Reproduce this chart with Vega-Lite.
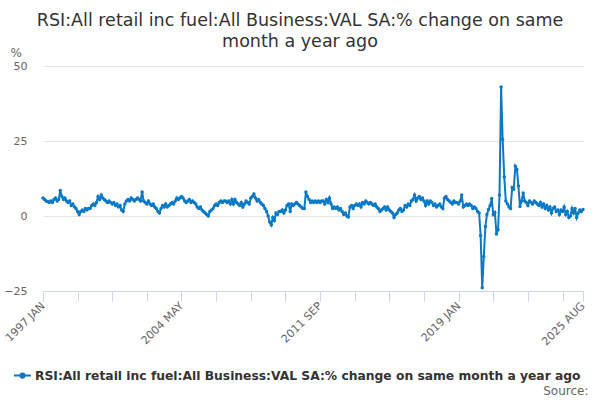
{
  "$schema": "https://vega.github.io/schema/vega-lite/v6.json",
  "description": "RSI all retail inc fuel, value SA, % change on same month a year ago.",
  "width": 540,
  "height": 225,
  "autosize": {"type": "none"},
  "padding": {"left": 43, "top": 66, "right": 17, "bottom": 109},
  "background": "white",
  "title": {
    "text": ["RSI:All retail inc fuel:All Business:VAL SA:% change on same", "month a year ago"],
    "anchor": "middle",
    "frame": "group",
    "dx": -13,
    "dy": 20,
    "offset": 16,
    "font": "DejaVu Sans",
    "fontSize": 17.5,
    "fontWeight": "normal",
    "color": "#333333",
    "lineHeight": 21
  },
  "data": {
    "values": [
      {"d": "1997-01", "v": 6}, {"d": "1997-02", "v": 5.5}, {"d": "1997-03", "v": 5}, {"d": "1997-04", "v": 4.8}, {"d": "1997-05", "v": 4.5}, {"d": "1997-06", "v": 5}, {"d": "1997-07", "v": 4.5}, {"d": "1997-08", "v": 5.5}, {"d": "1997-09", "v": 6}, {"d": "1997-10", "v": 5}, {"d": "1997-11", "v": 5.5}, {"d": "1997-12", "v": 8.5},
      {"d": "1998-01", "v": 6.5}, {"d": "1998-02", "v": 5.5}, {"d": "1998-03", "v": 6}, {"d": "1998-04", "v": 5}, {"d": "1998-05", "v": 4.5}, {"d": "1998-06", "v": 5}, {"d": "1998-07", "v": 3.5}, {"d": "1998-08", "v": 4}, {"d": "1998-09", "v": 3}, {"d": "1998-10", "v": 2.5}, {"d": "1998-11", "v": 1.5}, {"d": "1998-12", "v": 0.5},
      {"d": "1999-01", "v": 1.5}, {"d": "1999-02", "v": 2}, {"d": "1999-03", "v": 1.5}, {"d": "1999-04", "v": 2.5}, {"d": "1999-05", "v": 2}, {"d": "1999-06", "v": 2.5}, {"d": "1999-07", "v": 2.5}, {"d": "1999-08", "v": 3.5}, {"d": "1999-09", "v": 4}, {"d": "1999-10", "v": 3.5}, {"d": "1999-11", "v": 4.5}, {"d": "1999-12", "v": 6.5},
      {"d": "2000-01", "v": 5.5}, {"d": "2000-02", "v": 7}, {"d": "2000-03", "v": 6}, {"d": "2000-04", "v": 5.5}, {"d": "2000-05", "v": 5}, {"d": "2000-06", "v": 4.5}, {"d": "2000-07", "v": 5}, {"d": "2000-08", "v": 4.5}, {"d": "2000-09", "v": 4}, {"d": "2000-10", "v": 4.5}, {"d": "2000-11", "v": 3.5}, {"d": "2000-12", "v": 4},
      {"d": "2001-01", "v": 3}, {"d": "2001-02", "v": 3.5}, {"d": "2001-03", "v": 2}, {"d": "2001-04", "v": 1.5}, {"d": "2001-05", "v": 4}, {"d": "2001-06", "v": 5}, {"d": "2001-07", "v": 5.5}, {"d": "2001-08", "v": 5}, {"d": "2001-09", "v": 6}, {"d": "2001-10", "v": 5.5}, {"d": "2001-11", "v": 5}, {"d": "2001-12", "v": 5.5},
      {"d": "2002-01", "v": 6}, {"d": "2002-02", "v": 5.5}, {"d": "2002-03", "v": 5}, {"d": "2002-04", "v": 8}, {"d": "2002-05", "v": 5}, {"d": "2002-06", "v": 4.5}, {"d": "2002-07", "v": 4}, {"d": "2002-08", "v": 5}, {"d": "2002-09", "v": 4}, {"d": "2002-10", "v": 3.5}, {"d": "2002-11", "v": 4}, {"d": "2002-12", "v": 3},
      {"d": "2003-01", "v": 2.5}, {"d": "2003-02", "v": 1.5}, {"d": "2003-03", "v": 1}, {"d": "2003-04", "v": 2.5}, {"d": "2003-05", "v": 3.5}, {"d": "2003-06", "v": 3}, {"d": "2003-07", "v": 4}, {"d": "2003-08", "v": 3}, {"d": "2003-09", "v": 3.5}, {"d": "2003-10", "v": 4}, {"d": "2003-11", "v": 4.5}, {"d": "2003-12", "v": 4},
      {"d": "2004-01", "v": 5}, {"d": "2004-02", "v": 6}, {"d": "2004-03", "v": 5.5}, {"d": "2004-04", "v": 6}, {"d": "2004-05", "v": 6.5}, {"d": "2004-06", "v": 6}, {"d": "2004-07", "v": 5}, {"d": "2004-08", "v": 4.5}, {"d": "2004-09", "v": 5}, {"d": "2004-10", "v": 5.5}, {"d": "2004-11", "v": 4.5}, {"d": "2004-12", "v": 5},
      {"d": "2005-01", "v": 4.5}, {"d": "2005-02", "v": 4}, {"d": "2005-03", "v": 3}, {"d": "2005-04", "v": 2.5}, {"d": "2005-05", "v": 3}, {"d": "2005-06", "v": 2}, {"d": "2005-07", "v": 1.5}, {"d": "2005-08", "v": 1}, {"d": "2005-09", "v": 0.5}, {"d": "2005-10", "v": 0}, {"d": "2005-11", "v": 1.5}, {"d": "2005-12", "v": 2},
      {"d": "2006-01", "v": 2.5}, {"d": "2006-02", "v": 3.5}, {"d": "2006-03", "v": 4}, {"d": "2006-04", "v": 3.5}, {"d": "2006-05", "v": 4.5}, {"d": "2006-06", "v": 5}, {"d": "2006-07", "v": 4.5}, {"d": "2006-08", "v": 5}, {"d": "2006-09", "v": 5}, {"d": "2006-10", "v": 4.5}, {"d": "2006-11", "v": 5}, {"d": "2006-12", "v": 4},
      {"d": "2007-01", "v": 5.5}, {"d": "2007-02", "v": 4}, {"d": "2007-03", "v": 5.5}, {"d": "2007-04", "v": 4.5}, {"d": "2007-05", "v": 4}, {"d": "2007-06", "v": 3.5}, {"d": "2007-07", "v": 4.5}, {"d": "2007-08", "v": 3}, {"d": "2007-09", "v": 4}, {"d": "2007-10", "v": 5}, {"d": "2007-11", "v": 4.5}, {"d": "2007-12", "v": 4},
      {"d": "2008-01", "v": 6}, {"d": "2008-02", "v": 6.5}, {"d": "2008-03", "v": 7.3}, {"d": "2008-04", "v": 6}, {"d": "2008-05", "v": 5}, {"d": "2008-06", "v": 5.5}, {"d": "2008-07", "v": 4.5}, {"d": "2008-08", "v": 4}, {"d": "2008-09", "v": 3.5}, {"d": "2008-10", "v": 2.5}, {"d": "2008-11", "v": 1.5}, {"d": "2008-12", "v": 0},
      {"d": "2009-01", "v": -2}, {"d": "2009-02", "v": -3}, {"d": "2009-03", "v": -0.5}, {"d": "2009-04", "v": -1.5}, {"d": "2009-05", "v": 1}, {"d": "2009-06", "v": 0.5}, {"d": "2009-07", "v": 1.5}, {"d": "2009-08", "v": 1.5}, {"d": "2009-09", "v": 2}, {"d": "2009-10", "v": 1}, {"d": "2009-11", "v": 2}, {"d": "2009-12", "v": 3.5},
      {"d": "2010-01", "v": 4}, {"d": "2010-02", "v": 1.5}, {"d": "2010-03", "v": 4}, {"d": "2010-04", "v": 3.5}, {"d": "2010-05", "v": 4}, {"d": "2010-06", "v": 4.5}, {"d": "2010-07", "v": 4}, {"d": "2010-08", "v": 3.5}, {"d": "2010-09", "v": 3}, {"d": "2010-10", "v": 2.5}, {"d": "2010-11", "v": 2.5}, {"d": "2010-12", "v": 8},
      {"d": "2011-01", "v": 6.5}, {"d": "2011-02", "v": 5.5}, {"d": "2011-03", "v": 4.5}, {"d": "2011-04", "v": 5}, {"d": "2011-05", "v": 4.5}, {"d": "2011-06", "v": 5}, {"d": "2011-07", "v": 4.5}, {"d": "2011-08", "v": 5}, {"d": "2011-09", "v": 4.5}, {"d": "2011-10", "v": 5}, {"d": "2011-11", "v": 5}, {"d": "2011-12", "v": 4},
      {"d": "2012-01", "v": 5.5}, {"d": "2012-02", "v": 4.5}, {"d": "2012-03", "v": 6}, {"d": "2012-04", "v": 4}, {"d": "2012-05", "v": 2.5}, {"d": "2012-06", "v": 3}, {"d": "2012-07", "v": 2.5}, {"d": "2012-08", "v": 3}, {"d": "2012-09", "v": 2}, {"d": "2012-10", "v": 2.5}, {"d": "2012-11", "v": 1.5}, {"d": "2012-12", "v": 0.5},
      {"d": "2013-01", "v": 1}, {"d": "2013-02", "v": 0}, {"d": "2013-03", "v": -0.3}, {"d": "2013-04", "v": 3}, {"d": "2013-05", "v": 3.5}, {"d": "2013-06", "v": 2.5}, {"d": "2013-07", "v": 3.5}, {"d": "2013-08", "v": 4}, {"d": "2013-09", "v": 3.5}, {"d": "2013-10", "v": 4}, {"d": "2013-11", "v": 3}, {"d": "2013-12", "v": 4.5},
      {"d": "2014-01", "v": 4}, {"d": "2014-02", "v": 5}, {"d": "2014-03", "v": 4.5}, {"d": "2014-04", "v": 4}, {"d": "2014-05", "v": 4.5}, {"d": "2014-06", "v": 4}, {"d": "2014-07", "v": 3.5}, {"d": "2014-08", "v": 4}, {"d": "2014-09", "v": 3}, {"d": "2014-10", "v": 2.5}, {"d": "2014-11", "v": 1.5}, {"d": "2014-12", "v": 2},
      {"d": "2015-01", "v": 2.5}, {"d": "2015-02", "v": 3}, {"d": "2015-03", "v": 2}, {"d": "2015-04", "v": 3}, {"d": "2015-05", "v": 2}, {"d": "2015-06", "v": 1.5}, {"d": "2015-07", "v": 1}, {"d": "2015-08", "v": -0.5}, {"d": "2015-09", "v": 0.5}, {"d": "2015-10", "v": 1}, {"d": "2015-11", "v": 2}, {"d": "2015-12", "v": 2.5},
      {"d": "2016-01", "v": 1.5}, {"d": "2016-02", "v": 2}, {"d": "2016-03", "v": 3.5}, {"d": "2016-04", "v": 3}, {"d": "2016-05", "v": 4}, {"d": "2016-06", "v": 3.5}, {"d": "2016-07", "v": 5}, {"d": "2016-08", "v": 5.5}, {"d": "2016-09", "v": 7}, {"d": "2016-10", "v": 5}, {"d": "2016-11", "v": 6}, {"d": "2016-12", "v": 6.5},
      {"d": "2017-01", "v": 5.5}, {"d": "2017-02", "v": 6}, {"d": "2017-03", "v": 5}, {"d": "2017-04", "v": 3.5}, {"d": "2017-05", "v": 5}, {"d": "2017-06", "v": 4}, {"d": "2017-07", "v": 5}, {"d": "2017-08", "v": 4.5}, {"d": "2017-09", "v": 3.5}, {"d": "2017-10", "v": 4}, {"d": "2017-11", "v": 3}, {"d": "2017-12", "v": 3.5},
      {"d": "2018-01", "v": 4}, {"d": "2018-02", "v": 3}, {"d": "2018-03", "v": 2.5}, {"d": "2018-04", "v": 6}, {"d": "2018-05", "v": 6.5}, {"d": "2018-06", "v": 5.5}, {"d": "2018-07", "v": 5}, {"d": "2018-08", "v": 4.5}, {"d": "2018-09", "v": 4}, {"d": "2018-10", "v": 5}, {"d": "2018-11", "v": 4.5}, {"d": "2018-12", "v": 4.5},
      {"d": "2019-01", "v": 4}, {"d": "2019-02", "v": 5}, {"d": "2019-03", "v": 7}, {"d": "2019-04", "v": 3}, {"d": "2019-05", "v": 3.5}, {"d": "2019-06", "v": 4}, {"d": "2019-07", "v": 3.5}, {"d": "2019-08", "v": 4}, {"d": "2019-09", "v": 3.5}, {"d": "2019-10", "v": 2.5}, {"d": "2019-11", "v": 3}, {"d": "2019-12", "v": 2.5},
      {"d": "2020-01", "v": 1.5}, {"d": "2020-02", "v": 1}, {"d": "2020-03", "v": -6.5}, {"d": "2020-04", "v": -23.9}, {"d": "2020-05", "v": -13.5}, {"d": "2020-06", "v": -3.5}, {"d": "2020-07", "v": 0.5}, {"d": "2020-08", "v": 2.2}, {"d": "2020-09", "v": 3.5}, {"d": "2020-10", "v": 5.8}, {"d": "2020-11", "v": 0.5}, {"d": "2020-12", "v": 1.2},
      {"d": "2021-01", "v": -6}, {"d": "2021-02", "v": -4.6}, {"d": "2021-03", "v": 7}, {"d": "2021-04", "v": 43}, {"d": "2021-05", "v": 25.5}, {"d": "2021-06", "v": 13}, {"d": "2021-07", "v": 5}, {"d": "2021-08", "v": 4}, {"d": "2021-09", "v": 3}, {"d": "2021-10", "v": 2.5}, {"d": "2021-11", "v": 9.5}, {"d": "2021-12", "v": 9},
      {"d": "2022-01", "v": 16.6}, {"d": "2022-02", "v": 15.5}, {"d": "2022-03", "v": 10}, {"d": "2022-04", "v": 3.2}, {"d": "2022-05", "v": 5}, {"d": "2022-06", "v": 7.7}, {"d": "2022-07", "v": 5}, {"d": "2022-08", "v": 4.5}, {"d": "2022-09", "v": 3.5}, {"d": "2022-10", "v": 5}, {"d": "2022-11", "v": 4.5}, {"d": "2022-12", "v": 4},
      {"d": "2023-01", "v": 5}, {"d": "2023-02", "v": 4.5}, {"d": "2023-03", "v": 4}, {"d": "2023-04", "v": 3.5}, {"d": "2023-05", "v": 4.5}, {"d": "2023-06", "v": 3}, {"d": "2023-07", "v": 4}, {"d": "2023-08", "v": 2.5}, {"d": "2023-09", "v": 3.5}, {"d": "2023-10", "v": 2}, {"d": "2023-11", "v": 3}, {"d": "2023-12", "v": 1},
      {"d": "2024-01", "v": 2.5}, {"d": "2024-02", "v": 3}, {"d": "2024-03", "v": 1.5}, {"d": "2024-04", "v": 2}, {"d": "2024-05", "v": 0.5}, {"d": "2024-06", "v": 2}, {"d": "2024-07", "v": 1.5}, {"d": "2024-08", "v": 3}, {"d": "2024-09", "v": 0.5}, {"d": "2024-10", "v": 1.5}, {"d": "2024-11", "v": -0.5}, {"d": "2024-12", "v": 0},
      {"d": "2025-01", "v": 2.5}, {"d": "2025-02", "v": 1}, {"d": "2025-03", "v": 2.5}, {"d": "2025-04", "v": -0.5}, {"d": "2025-05", "v": 1}, {"d": "2025-06", "v": 2}, {"d": "2025-07", "v": 1.5}, {"d": "2025-08", "v": 2.2}
    ]
  },
  "mark": {"type": "line", "strokeWidth": 2, "point": {"filled": true, "size": 12}},
  "encoding": {
    "x": {
      "field": "d",
      "type": "temporal",
      "scale": {
        "type": "utc",
        "domain": [{"year": 1997, "month": 1, "date": 1, "utc": true}, {"year": 2025, "month": 8, "date": 1, "utc": true}]
      },
      "axis": {
        "values": [
          {"year": 1997, "month": 1, "date": 1, "utc": true},
          {"year": 1998, "month": 11, "date": 1, "utc": true},
          {"year": 2000, "month": 9, "date": 1, "utc": true},
          {"year": 2002, "month": 7, "date": 1, "utc": true},
          {"year": 2004, "month": 5, "date": 1, "utc": true},
          {"year": 2006, "month": 3, "date": 1, "utc": true},
          {"year": 2008, "month": 1, "date": 1, "utc": true},
          {"year": 2009, "month": 11, "date": 1, "utc": true},
          {"year": 2011, "month": 9, "date": 1, "utc": true},
          {"year": 2013, "month": 7, "date": 1, "utc": true},
          {"year": 2015, "month": 5, "date": 1, "utc": true},
          {"year": 2017, "month": 3, "date": 1, "utc": true},
          {"year": 2019, "month": 1, "date": 1, "utc": true},
          {"year": 2020, "month": 11, "date": 1, "utc": true},
          {"year": 2022, "month": 9, "date": 1, "utc": true},
          {"year": 2024, "month": 7, "date": 1, "utc": true},
          {"year": 2025, "month": 8, "date": 1, "utc": true}
        ],
        "labelExpr": "indexof(['1997 JAN','2004 MAY','2011 SEP','2019 JAN','2025 AUG'], upper(utcFormat(datum.value, '%Y %b'))) >= 0 ? upper(utcFormat(datum.value, '%Y %b')) : ''",
        "labelAngle": -45,
        "labelAlign": "right",
        "labelBaseline": "middle",
        "labelFont": "DejaVu Sans",
        "labelFontSize": 11,
        "labelColor": "#666666",
        "labelOverlap": false,
        "labelBound": false,
        "labelFlush": false,
        "labelPadding": 3,
        "grid": false,
        "domainColor": "#ccd6eb",
        "domainWidth": 1,
        "tickColor": "#ccd6eb",
        "tickSize": 10,
        "title": "Source:",
        "titleX": 545,
        "titleY": 99,
        "titleAlign": "right",
        "titleAnchor": null,
        "titleBaseline": "middle",
        "titleFont": "DejaVu Sans",
        "titleFontSize": 12,
        "titleFontWeight": "normal",
        "titleColor": "#666666"
      }
    },
    "y": {
      "field": "v",
      "type": "quantitative",
      "scale": {"domain": [-25, 50], "nice": false, "zero": false},
      "axis": {
        "values": [-25, 0, 25, 50],
        "grid": true,
        "gridColor": "#e6e6e6",
        "domain": false,
        "ticks": false,
        "tickSize": 0,
        "labelFont": "DejaVu Sans",
        "labelFontSize": 11,
        "labelColor": "#666666",
        "labelPadding": 16,
        "title": "%",
        "titleAngle": 0,
        "titleX": -33,
        "titleY": -14,
        "titleAlign": "left",
        "titleBaseline": "middle",
        "titleFont": "DejaVu Sans",
        "titleFontSize": 12,
        "titleFontWeight": "normal",
        "titleColor": "#666666"
      }
    },
    "color": {
      "datum": "RSI:All retail inc fuel:All Business:VAL SA:% change on same month a year ago",
      "type": "nominal",
      "scale": {"range": ["#0a79c6"]},
      "legend": {
        "title": null,
        "orient": "none",
        "legendX": -30,
        "legendY": 300,
        "direction": "horizontal",
        "padding": 0,
        "labelFont": "DejaVu Sans",
        "labelFontWeight": "bold",
        "labelFontSize": 12.3,
        "labelColor": "#333333",
        "labelLimit": 0,
        "labelOffset": 3,
        "symbolType": "M-1,0L1,0M-0.25,0A0.25,0.25,0,1,0,0.25,0A0.25,0.25,0,1,0,-0.25,0",
        "symbolSize": 289,
        "symbolStrokeWidth": 2,
        "symbolFillColor": "#0a79c6",
        "symbolStrokeColor": "#0a79c6"
      }
    }
  },
  "config": {
    "view": {"stroke": null},
    "font": "DejaVu Sans"
  }
}
